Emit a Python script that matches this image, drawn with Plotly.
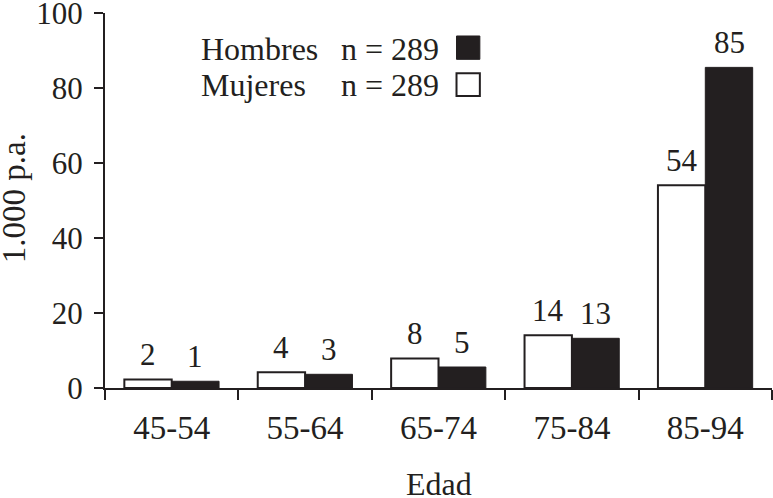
import plotly.graph_objects as go

categories = ["45-54", "55-64", "65-74", "75-84", "85-94"]
mujeres = [2.3, 4.2, 7.9, 14.05, 54.1]
hombres = [1.8, 3.65, 5.6, 13.25, 85.5]
mujeres_labels = ["2", "4", "8", "14", "54"]
hombres_labels = ["1", "3", "5", "13", "85"]
y_ticks = [0, 20, 40, 60, 80, 100]

FONT = "Liberation Serif, Times New Roman, serif"
INK = "#231f20"

fig = go.Figure()
fig.add_trace(go.Bar(x=categories, y=mujeres, name="Mujeres",
                     marker=dict(color="white", line=dict(color=INK, width=2))))
fig.add_trace(go.Bar(x=categories, y=hombres, name="Hombres",
                     marker=dict(color=INK, line=dict(color=INK, width=1))))

half = 23.7
for cat, v, lab in zip(categories, mujeres, mujeres_labels):
    fig.add_annotation(x=cat, y=v, text=lab, showarrow=False, xshift=-half, yshift=5,
                       yanchor="bottom", font=dict(size=31, color=INK, family=FONT))
for cat, v, lab in zip(categories, hombres, hombres_labels):
    fig.add_annotation(x=cat, y=v, text=lab, showarrow=False, xshift=half, yshift=5,
                       yanchor="bottom", font=dict(size=31, color=INK, family=FONT))

# legend (text left, swatch right)
leg_font = dict(size=32, color=INK, family=FONT)
fig.add_annotation(xref="paper", yref="paper", x=0.1405, y=0.905, text="Hombres",
                   showarrow=False, xanchor="left", yanchor="middle", font=leg_font)
fig.add_annotation(xref="paper", yref="paper", x=0.504, y=0.905, text="n = 289",
                   showarrow=False, xanchor="right", yanchor="middle", font=leg_font)
fig.add_annotation(xref="paper", yref="paper", x=0.1405, y=0.808, text="Mujeres",
                   showarrow=False, xanchor="left", yanchor="middle", font=leg_font)
fig.add_annotation(xref="paper", yref="paper", x=0.504, y=0.808, text="n = 289",
                   showarrow=False, xanchor="right", yanchor="middle", font=leg_font)
fig.add_shape(type="rect", xref="paper", yref="paper", x0=0.527, x1=0.562, y0=0.8765, y1=0.9387,
              fillcolor=INK, line=dict(color=INK, width=1))
fig.add_shape(type="rect", xref="paper", yref="paper", x0=0.527, x1=0.562, y0=0.7787, y1=0.8392,
              fillcolor="white", line=dict(color=INK, width=2))

# axis titles
fig.add_annotation(xref="paper", yref="paper", x=0.5, y=-0.2567, text="Edad",
                   showarrow=False, xanchor="center", yanchor="middle",
                   font=dict(size=32, color=INK, family=FONT))
fig.add_annotation(xref="paper", yref="paper", x=-0.136, y=0.507, text="1.000 p.a.",
                   showarrow=False, xanchor="center", yanchor="middle", textangle=-90,
                   font=dict(size=33, color=INK, family=FONT))

fig.update_layout(
    width=773, height=498,
    margin=dict(l=105, r=1, t=13, b=110),
    paper_bgcolor="white", plot_bgcolor="white",
    barmode="group", bargap=0.29, bargroupgap=0,
    showlegend=False,
    font=dict(family=FONT, color=INK, size=31),
)
fig.update_xaxes(
    automargin=False,
    showline=True, linecolor=INK, linewidth=2,
    ticks="outside", ticklen=10, tickwidth=2, tickcolor=INK, tickson="boundaries",
    tickfont=dict(size=33, family=FONT, color=INK), ticklabelstandoff=9,
    showgrid=False, zeroline=False,
)
fig.update_yaxes(
    automargin=False, ticklabeloverflow="allow",
    range=[0, 100], tickvals=y_ticks,
    showline=True, linecolor=INK, linewidth=2,
    ticks="outside", ticklen=9, tickwidth=2, tickcolor=INK,
    tickfont=dict(size=31, family=FONT, color=INK), ticklabelstandoff=5,
    showgrid=False, zeroline=False,
)

fig.write_html("out.html", config={"displayModeBar": False},
               post_script="document.body.style.margin='0';document.body.style.padding='0';")
